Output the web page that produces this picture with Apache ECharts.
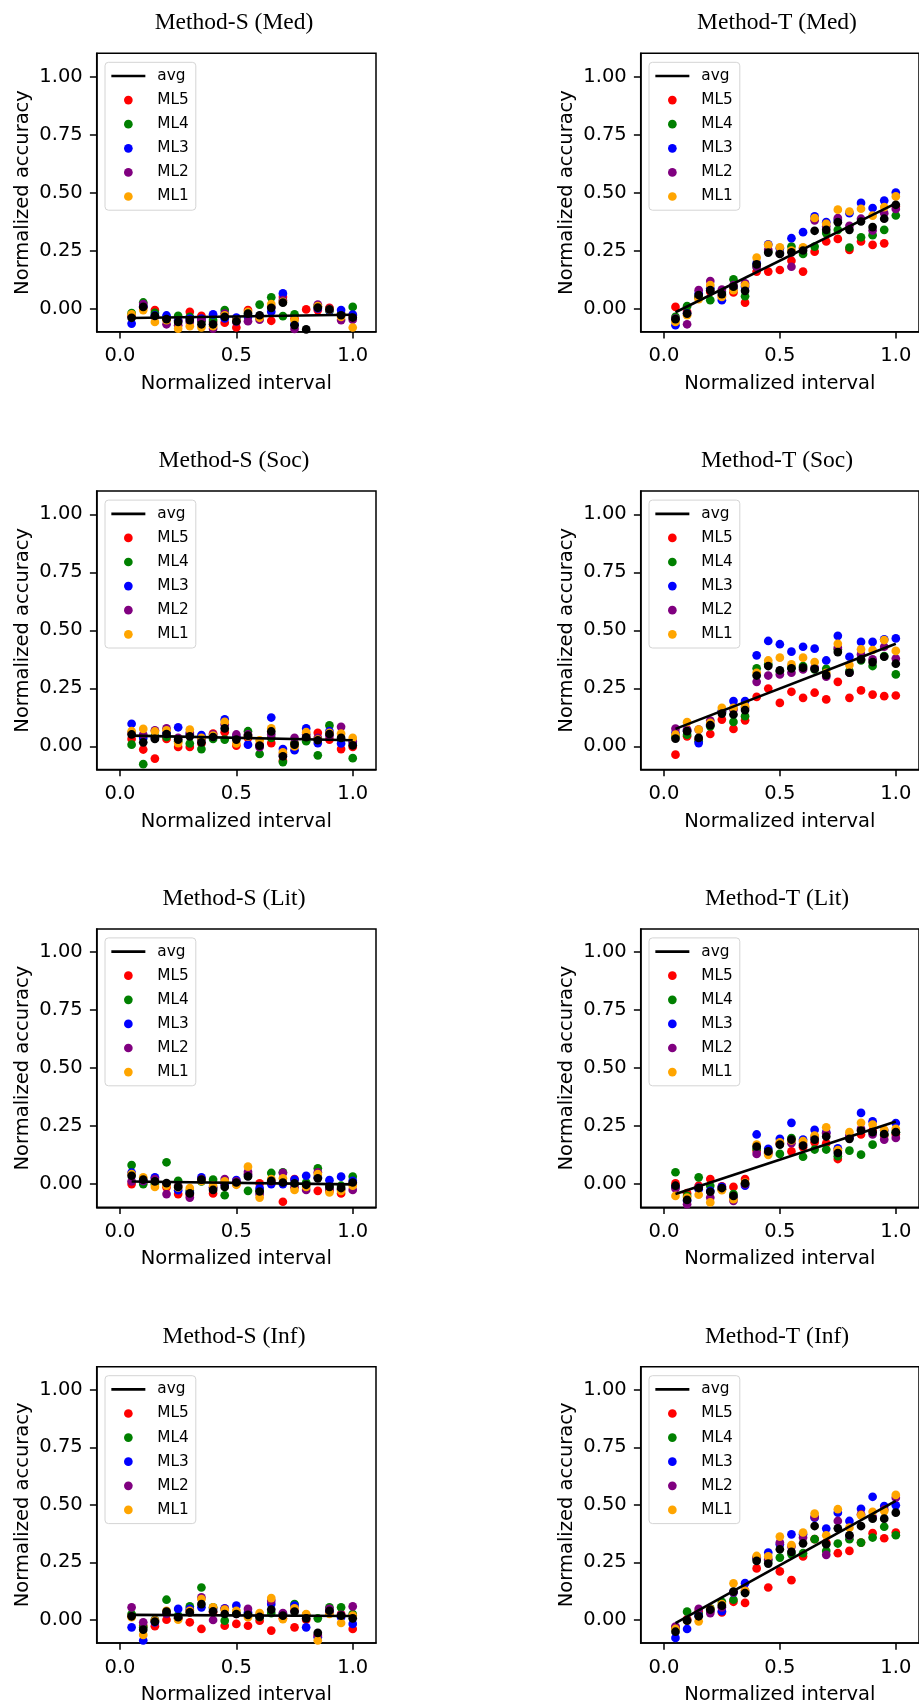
<!DOCTYPE html>
<html><head><meta charset="utf-8">
<script src="https://cdn.jsdelivr.net/npm/echarts@6/dist/echarts.min.js"></script>
<style>html,body{margin:0;padding:0;background:#fff}#c{width:919px;height:1706px}</style>
</head><body><div id="c"></div>
<script>
const xValues = [0.05,0.10,0.15,0.20,0.25,0.30,0.35,0.40,0.45,0.50,0.55,0.60,0.65,0.70,0.75,0.80,0.85,0.90,0.95,1.00];
const xTicks = [0, 0.5, 1.0];
const yTicks = [0, 0.25, 0.5, 0.75, 1.0];
const seriesNames = ['ML5','ML4','ML3','ML2','ML1'];
const panelTitles = ['Method-S (Med)','Method-T (Med)','Method-S (Soc)','Method-T (Soc)','Method-S (Lit)','Method-T (Lit)','Method-S (Inf)','Method-T (Inf)'];

// Method-S (Med)
const sMed_ml5 = [-0.03,0.005,-0.007,-0.043,-0.05,-0.014,-0.032,-0.058,-0.061,-0.082,-0.007,-0.036,-0.053,0.05,-0.043,-0.004,-0.007,0.003,-0.022,-0.029];
const sMed_ml4 = [-0.02,0.026,-0.019,-0.043,-0.032,-0.036,-0.055,-0.05,-0.007,-0.048,-0.029,0.017,0.048,-0.033,-0.025,-0.11,0.01,-0.01,-0.025,0.007];
const sMed_ml3 = [-0.065,0.01,-0.03,-0.03,-0.053,-0.043,-0.043,-0.025,-0.043,-0.039,-0.036,-0.033,-0.014,0.065,-0.068,-0.12,0,-0.007,-0.007,-0.026];
const sMed_ml2 = [-0.035,0.019,-0.036,-0.068,-0.072,-0.058,-0.05,-0.087,-0.022,-0.058,-0.055,-0.048,0.007,0.036,-0.088,-0.115,0.017,-0.001,-0.05,-0.048];
const sMed_ml1 = [-0.025,-0.007,-0.058,-0.05,-0.087,-0.076,-0.082,-0.076,-0.029,-0.05,-0.014,-0.04,0.019,0.029,-0.05,-0.125,0.01,-0.004,-0.036,-0.082];
const sMed_avg = [-0.04,0.007,-0.032,-0.046,-0.058,-0.05,-0.068,-0.068,-0.036,-0.055,-0.022,-0.029,0.003,0.025,-0.072,-0.09,0.004,-0.004,-0.029,-0.039];
// Method-T (Med)
const tMed_ml5 = [0.007,-0.014,0.048,0.072,0.055,0.069,0.025,0.159,0.159,0.166,0.206,0.159,0.245,0.289,0.3,0.253,0.289,0.274,0.281,0.44];
const tMed_ml4 = [-0.036,0.01,0.05,0.036,0.072,0.126,0.053,0.18,0.245,0.24,0.267,0.235,0.267,0.325,0.339,0.263,0.307,0.316,0.339,0.401];
const tMed_ml3 = [-0.072,-0.022,0.065,0.087,0.036,0.087,0.094,0.195,0.277,0.26,0.303,0.329,0.397,0.372,0.382,0.411,0.455,0.433,0.465,0.5];
const tMed_ml2 = [-0.043,-0.068,0.079,0.118,0.082,0.101,0.108,0.18,0.253,0.237,0.18,0.26,0.38,0.353,0.39,0.356,0.387,0.336,0.411,0.429];
const tMed_ml1 = [-0.058,-0.029,0.04,0.101,0.05,0.079,0.101,0.219,0.274,0.264,0.25,0.264,0.39,0.365,0.426,0.418,0.43,0.4,0.437,0.483];
const tMed_avg = [-0.046,-0.022,0.058,0.079,0.062,0.094,0.076,0.19,0.241,0.235,0.242,0.25,0.335,0.339,0.372,0.339,0.375,0.351,0.387,0.447];
// Method-S (Soc)
const sSoc_ml5 = [0.032,-0.014,-0.053,0.032,-0.003,-0.003,0.012,0.055,0.061,0.003,0.036,0.007,0.014,-0.062,0.014,0.04,0.058,0.029,-0.012,-0.003];
const sSoc_ml4 = [0.007,-0.077,0.043,0.04,0.022,0.012,-0.012,0.032,0.029,0.036,0.065,-0.033,0.036,-0.068,0.012,0.022,-0.039,0.09,0.029,-0.051];
const sSoc_ml3 = [0.097,0.036,0.036,0.058,0.082,0.051,0.048,0.043,0.116,0.04,0.007,0.0,0.124,-0.012,-0.017,0.077,0.014,0.065,0.012,0.014];
const sSoc_ml2 = [0.058,0.051,0.069,0.077,0.036,0.058,0.029,0.051,0.094,0.051,0.051,-0.004,0.051,-0.036,0.036,0.051,0.036,0.046,0.084,0.022];
const sSoc_ml1 = [0.065,0.075,0.064,0.069,0.014,0.072,0.036,0.046,0.105,0.012,0.043,0.026,0.077,-0.026,0.0,0.061,0.029,0.058,0.055,0.036];
const sSoc_avg = [0.051,0.017,0.032,0.053,0.029,0.043,0.017,0.04,0.077,0.029,0.046,0.003,0.064,-0.043,0.007,0.039,0.026,0.053,0.036,0.004];
// Method-T (Soc)
const tSoc_ml5 = [-0.036,0.043,0.029,0.053,0.115,0.075,0.112,0.213,0.249,0.187,0.235,0.209,0.231,0.202,0.278,0.209,0.241,0.223,0.216,0.219];
const tSoc_ml4 = [0.043,0.05,0.022,0.086,0.151,0.105,0.13,0.336,0.354,0.324,0.339,0.346,0.331,0.334,0.418,0.324,0.37,0.346,0.389,0.31];
const tSoc_ml3 = [0.058,0.068,0.014,0.095,0.151,0.195,0.195,0.392,0.454,0.44,0.408,0.429,0.421,0.37,0.476,0.386,0.45,0.45,0.461,0.465];
const tSoc_ml2 = [0.076,0.072,0.072,0.111,0.147,0.159,0.166,0.278,0.305,0.31,0.317,0.331,0.339,0.3,0.425,0.317,0.396,0.375,0.429,0.378];
const tSoc_ml1 = [0.05,0.104,0.072,0.101,0.166,0.166,0.173,0.317,0.37,0.382,0.353,0.382,0.363,0.317,0.442,0.35,0.418,0.415,0.458,0.411];
const tSoc_avg = [0.033,0.065,0.036,0.091,0.141,0.137,0.156,0.305,0.346,0.327,0.336,0.339,0.334,0.307,0.406,0.317,0.375,0.363,0.386,0.356];
// Method-S (Lit)
const sLit_ml5 = [0.0,0.007,0.007,-0.014,-0.043,-0.046,0.014,-0.04,0.0,0.0,0.043,0.003,0.007,-0.076,0.022,0.0,-0.029,-0.029,-0.04,0.0];
const sLit_ml4 = [0.082,0.0,0.0,0.094,0.014,-0.029,0.012,0.019,-0.048,0.003,-0.029,-0.026,0.048,0.051,0.0,0.007,0.068,-0.007,-0.007,0.032];
const sLit_ml3 = [0.05,0.014,0.029,0.0,-0.026,-0.036,0.029,-0.014,0.0,0.017,0.04,-0.017,0.0,0.0,0.019,0.036,0.029,0.017,0.032,0.014];
const sLit_ml2 = [0.012,0.014,0.022,-0.043,-0.007,-0.058,0.022,-0.017,0.022,0.012,0.053,-0.043,0.012,0.048,-0.014,-0.025,0.051,-0.022,-0.022,-0.025];
const sLit_ml1 = [0.043,0.029,-0.012,-0.007,-0.014,-0.017,0.014,-0.007,0.012,-0.003,0.075,-0.058,0.022,0.025,-0.025,-0.012,0.043,-0.036,-0.029,-0.007];
const sLit_avg = [0.036,0.019,0.012,0.004,-0.012,-0.04,0.019,-0.025,-0.012,0.007,0.033,-0.032,0.014,0.007,0.003,-0.003,0.025,-0.012,-0.017,0.007];
// Method-T (Lit)
const tLit_ml5 = [0.003,-0.039,-0.007,0.022,-0.01,-0.012,0.022,0.144,0.137,0.173,0.141,0.159,0.18,0.176,0.108,0.202,0.214,0.231,0.209,0.214];
const tLit_ml4 = [0.051,-0.051,0.029,-0.007,-0.022,-0.043,0.0,0.152,0.144,0.13,0.198,0.118,0.149,0.149,0.12,0.144,0.127,0.17,0.214,0.224];
const tLit_ml3 = [-0.012,-0.072,-0.022,-0.029,-0.012,-0.058,-0.007,0.214,0.152,0.195,0.264,0.192,0.234,0.223,0.154,0.2,0.307,0.271,0.231,0.263];
const tLit_ml2 = [-0.019,-0.087,-0.014,-0.058,-0.022,-0.072,0.0,0.13,0.133,0.176,0.176,0.173,0.202,0.219,0.144,0.209,0.238,0.214,0.192,0.199];
const tLit_ml1 = [-0.051,-0.058,-0.046,-0.079,-0.026,-0.065,0.007,0.17,0.126,0.18,0.188,0.185,0.209,0.245,0.147,0.224,0.264,0.257,0.234,0.238];
const tLit_avg = [-0.007,-0.068,-0.017,-0.033,-0.017,-0.051,0.003,0.162,0.141,0.17,0.192,0.166,0.192,0.205,0.134,0.195,0.231,0.224,0.216,0.224];
// Method-S (Inf)
const sInf_ml5 = [0.019,-0.025,-0.027,0.001,0.007,-0.01,-0.039,0.033,-0.025,-0.017,-0.025,-0.003,-0.046,0.007,-0.032,0.001,-0.07,0.033,0.026,-0.039];
const sInf_ml4 = [0.026,-0.032,0.001,0.088,0.019,0.059,0.141,0.055,-0.003,0.033,0.026,0.012,0.03,0.026,0.069,0.022,0.007,0.055,0.055,0.026];
const sInf_ml3 = [-0.032,-0.089,-0.01,0.033,0.048,0.048,0.055,0.048,0.051,0.062,0.033,0.019,0.069,0.026,0.062,-0.032,-0.075,0.036,0.012,-0.017];
const sInf_ml2 = [0.055,-0.01,-0.003,0.026,0.007,0.04,0.098,0.0,0.048,0.026,0.048,0.022,0.084,0.03,0.04,0.019,-0.065,0.048,0.022,0.059];
const sInf_ml1 = [0.012,-0.065,-0.003,0.04,0.001,0.04,0.091,0.055,0.045,0.04,0.012,0.03,0.095,0.004,0.051,0.026,-0.089,0.026,-0.013,0.019];
const sInf_avg = [0.016,-0.042,-0.007,0.036,0.012,0.033,0.069,0.038,0.026,0.026,0.022,0.014,0.045,0.019,0.036,0.007,-0.056,0.04,0.019,0.007];
// Method-T (Inf)
const tInf_ml5 = [-0.032,0.004,0.036,0.04,0.033,0.079,0.074,0.224,0.141,0.211,0.173,0.276,0.351,0.336,0.29,0.3,0.336,0.377,0.355,0.38];
const tInf_ml4 = [-0.036,0.036,0.026,0.051,0.079,0.088,0.12,0.267,0.257,0.271,0.286,0.29,0.351,0.3,0.332,0.351,0.336,0.358,0.405,0.368];
const tInf_ml3 = [-0.078,-0.039,0.019,0.04,0.038,0.12,0.16,0.271,0.293,0.329,0.372,0.372,0.444,0.397,0.466,0.43,0.483,0.535,0.495,0.498];
const tInf_ml2 = [-0.029,0.0,0.048,0.03,0.055,0.12,0.127,0.271,0.264,0.336,0.319,0.358,0.448,0.283,0.43,0.366,0.459,0.448,0.48,0.531];
const tInf_ml1 = [-0.039,-0.003,-0.006,0.048,0.069,0.159,0.127,0.278,0.276,0.362,0.325,0.38,0.462,0.368,0.481,0.401,0.455,0.47,0.473,0.543];
const tInf_avg = [-0.051,-0.003,0.016,0.045,0.062,0.123,0.117,0.257,0.245,0.307,0.296,0.333,0.408,0.329,0.398,0.368,0.408,0.44,0.44,0.466];

// avg fit line end values (at first and last x) for each panel
const avgLineStart = [-0.041,-0.016,0.046,0.075,0.011,-0.043,0.022,-0.014];
const avgLineEnd   = [-0.027,0.453,0.026,0.442,-0.001,0.27,0.017,0.517];

const panelData = [
  [sMed_ml5,sMed_ml4,sMed_ml3,sMed_ml2,sMed_ml1,sMed_avg],
  [tMed_ml5,tMed_ml4,tMed_ml3,tMed_ml2,tMed_ml1,tMed_avg],
  [sSoc_ml5,sSoc_ml4,sSoc_ml3,sSoc_ml2,sSoc_ml1,sSoc_avg],
  [tSoc_ml5,tSoc_ml4,tSoc_ml3,tSoc_ml2,tSoc_ml1,tSoc_avg],
  [sLit_ml5,sLit_ml4,sLit_ml3,sLit_ml2,sLit_ml1,sLit_avg],
  [tLit_ml5,tLit_ml4,tLit_ml3,tLit_ml2,tLit_ml1,tLit_avg],
  [sInf_ml5,sInf_ml4,sInf_ml3,sInf_ml2,sInf_ml1,sInf_avg],
  [tInf_ml5,tInf_ml4,tInf_ml3,tInf_ml2,tInf_ml1,tInf_avg]
];

const colors = ['#ff0000','#008000','#0000ff','#800080','#ffa500'];
const colLeft = [96.7, 640.7];
const plotW = 279.3, plotH = 278.4;
const rowTop0 = 53.3, rowStep = 437.8;
const titleX = [234, 777];
const font = 'DejaVu Sans';

const grids = [], xAxes = [], yAxes = [], series = [], legends = [], graphics = [];
for (let i = 0; i < 8; i++) {
  const col = i % 2, row = Math.floor(i / 2);
  const left = colLeft[col], top = rowTop0 + row * rowStep;
  grids.push({left: left, top: top, width: plotW, height: plotH, show: true,
    borderColor: '#000', borderWidth: 1.5, backgroundColor: 'transparent', containLabel: false});
  xAxes.push({type: 'value', gridIndex: i, min: -0.1, max: 1.1, position: 'bottom',
    name: 'Normalized interval', nameLocation: 'middle', nameGap: 42,
    nameTextStyle: {fontFamily: font, fontSize: 19.5, color: '#000'},
    axisLine: {show: true, onZero: false, lineStyle: {color: '#000', width: 1.5}}, splitLine: {show: false},
    axisTick: {show: true, length: 6.8, lineStyle: {color: '#000', width: 1.5}, customValues: xTicks},
    axisLabel: {show: true, margin: 14.5, fontFamily: font, fontSize: 19.5, color: '#000',
      customValues: xTicks, formatter: v => Number(v).toFixed(1)}
  });
  yAxes.push({type: 'value', gridIndex: i, min: -0.1, max: 1.1, position: 'left',
    name: 'Normalized accuracy', nameLocation: 'middle', nameGap: 64, nameRotate: 90,
    nameTextStyle: {fontFamily: font, fontSize: 19.5, color: '#000'},
    axisLine: {show: true, onZero: false, lineStyle: {color: '#000', width: 1.5}}, splitLine: {show: false},
    axisTick: {show: true, length: 6.8, lineStyle: {color: '#000', width: 1.5}, customValues: yTicks},
    axisLabel: {show: true, margin: 14, fontFamily: font, fontSize: 19.5, color: '#000',
      customValues: yTicks, formatter: v => Math.abs(v) < 1e-9 ? '0.00' : Number(v).toFixed(2)}
  });
  const d = panelData[i];
  for (let k = 0; k < 5; k++) {
    series.push({type: 'scatter', name: seriesNames[k], xAxisIndex: i, yAxisIndex: i,
      data: xValues.map((x, j) => [x, d[k][j]]), symbol: 'circle', symbolSize: 8.7,
      itemStyle: {color: colors[k], opacity: 1}, z: 2, silent: true, animation: false});
  }
  series.push({type: 'scatter', name: 'avg points', xAxisIndex: i, yAxisIndex: i,
    data: xValues.map((x, j) => [x, d[5][j]]), symbol: 'circle', symbolSize: 8.7,
    itemStyle: {color: '#000', opacity: 1}, z: 2, silent: true, animation: false});
  series.push({type: 'line', name: 'avg', xAxisIndex: i, yAxisIndex: i,
    data: [[xValues[0], avgLineStart[i]], [xValues[xValues.length - 1], avgLineEnd[i]]],
    symbol: 'none', showSymbol: false, lineStyle: {color: '#000', width: 2.6}, itemStyle: {color: '#000'},
    z: 3, silent: true, animation: false});
  legends.push({show: true, orient: 'vertical', left: left + 8.3, top: top + 9,
    data: [{name: 'avg', itemStyle: {color: 'rgba(0,0,0,0)', opacity: 0, borderWidth: 0}}].concat(seriesNames),
    selectedMode: false,
    itemWidth: 34, itemHeight: 8.7, itemGap: 8.1, padding: [5.7, 7, 5.7, 5],
    backgroundColor: '#fff', borderColor: '#d4d4d4', borderWidth: 1, borderRadius: 3.5,
    lineStyle: {width: 2.7},
    textStyle: {fontFamily: font, fontSize: 15.3, color: '#000', lineHeight: 16, padding: [0, 0, 0, 7]}
  });
  graphics.push({type: 'text', x: titleX[col], y: 23.3 + row * rowStep, silent: true,
    style: {text: panelTitles[i], fill: '#000', font: '23.5px "Liberation Serif", "Times New Roman", serif',
      align: 'center', verticalAlign: 'middle'}});
}

const chart = echarts.init(document.getElementById('c'), null, {renderer: 'canvas'});
chart.setOption({animation: false, backgroundColor: '#fff', grid: grids, xAxis: xAxes, yAxis: yAxes,
  series: series, legend: legends, graphic: graphics, tooltip: {show: false}});
</script></body></html>
